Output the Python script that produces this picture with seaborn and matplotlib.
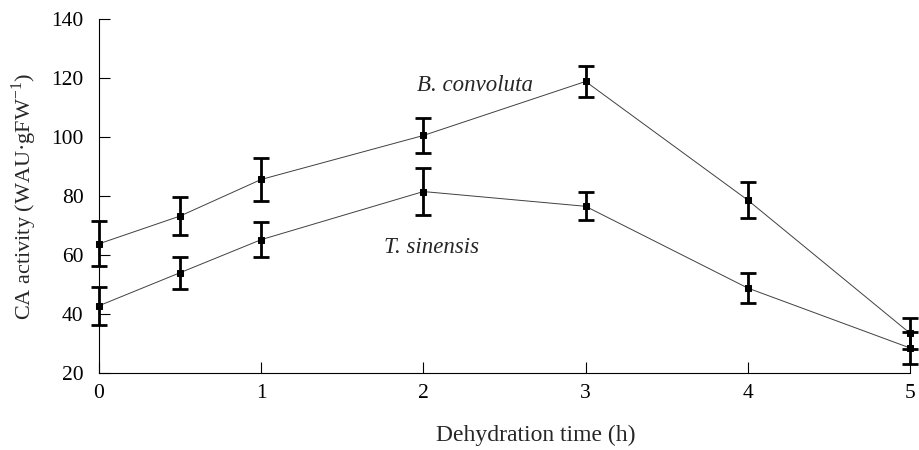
import numpy as np
import pandas as pd
import matplotlib
matplotlib.use("Agg")
import matplotlib.pyplot as plt
import seaborn as sns

# Data
time_h = [0, 0.5, 1, 2, 3, 4, 5]
b_convoluta = [63.8, 73.2, 85.6, 100.5, 118.8, 78.6, 33.5]
b_convoluta_err = [7.6, 6.3, 7.2, 6.0, 5.2, 6.0, 5.2]
t_sinensis = [42.8, 54.0, 65.2, 81.5, 76.5, 48.8, 28.5]
t_sinensis_err = [6.4, 5.4, 6.0, 8.0, 4.8, 5.2, 5.3]

df = pd.DataFrame({
    "time": time_h * 2,
    "activity": b_convoluta + t_sinensis,
    "err": b_convoluta_err + t_sinensis_err,
    "species": ["B. convoluta"] * len(time_h) + ["T. sinensis"] * len(time_h),
})

sns.set_style("ticks")
plt.rcParams["font.family"] = ["Liberation Serif", "DejaVu Serif"]
plt.rcParams["mathtext.fontset"] = "custom"
plt.rcParams["mathtext.rm"] = "Liberation Serif"

fig = plt.figure(figsize=(9.2, 4.5), dpi=100)
ax = fig.add_axes([0.1076, 0.171, 0.8815, 0.787])

sns.lineplot(data=df, x="time", y="activity", units="species", estimator=None,
             color="#404040", linewidth=0.7, marker="s", markersize=4.5,
             markerfacecolor="black", markeredgecolor="black", ax=ax,
             clip_on=False)

for name, grp in df.groupby("species"):
    ax.errorbar(grp["time"], grp["activity"], yerr=grp["err"], fmt="none",
                ecolor="black", elinewidth=2, capsize=5.5, capthick=2,
                clip_on=False, zorder=3)

ax.set_xlim(0, 5)
ax.set_ylim(20, 140)
ax.set_xticks([0, 1, 2, 3, 4, 5])
ax.set_yticks([20, 40, 60, 80, 100, 120, 140])
ax.tick_params(axis="both", direction="in", length=8, width=0.8,
               labelsize=15.5, colors="black")
ax.tick_params(axis="x", pad=8)
ax.tick_params(axis="y", pad=11)
for s in ["top", "right"]:
    ax.spines[s].set_visible(False)
for s in ["left", "bottom"]:
    ax.spines[s].set_linewidth(0.8)
    ax.spines[s].set_color("black")

ax.set_xlabel("Dehydration time (h)", fontsize=17)
ax.xaxis.set_label_coords(0.539, -0.145)
ax.set_ylabel("CA activity (WAU·gFW$^{-1}$)", fontsize=16, labelpad=9)

ax.text(2.32, 117.5, "B. convoluta", fontsize=16.5, style="italic",
        ha="center", va="center")
ax.text(2.05, 62.7, "T. sinensis", fontsize=16.5, style="italic",
        ha="center", va="center")

fig.savefig("out.png", dpi=100)
